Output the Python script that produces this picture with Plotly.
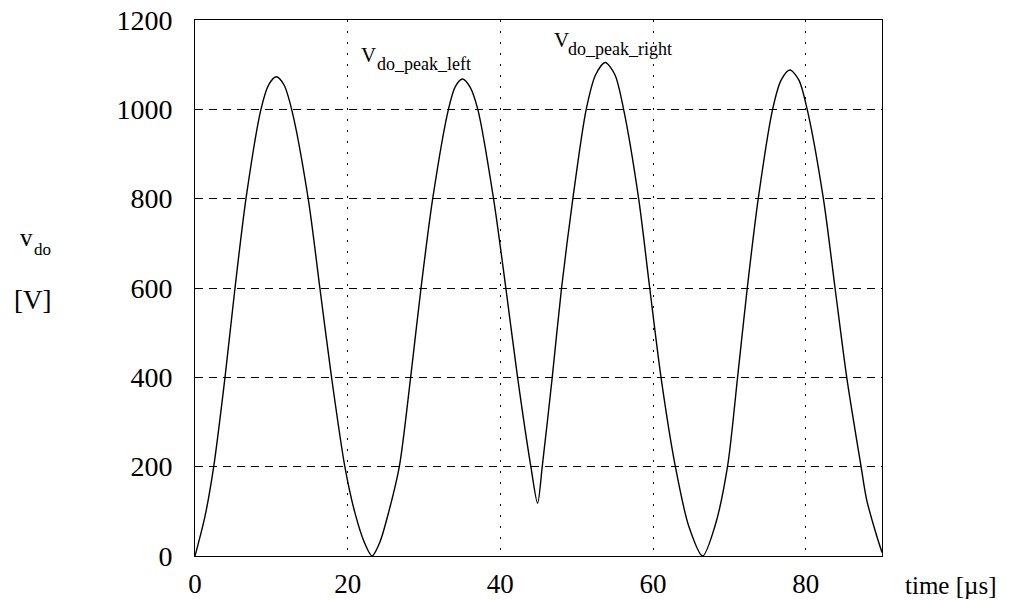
import plotly.graph_objects as go

# time [µs] and v_do [V]
time_us = [0, 1.3, 2.45, 3.93, 5.24, 6.68, 8.64, 9.65, 10.65, 11.65, 12.66, 14.83, 16.36, 17.89, 19.63,
           20.9, 22.2, 23.2, 24.2, 25.4, 26.77, 28.25, 29.61, 31.14, 33.2, 34.1, 35.04, 36.0, 37.05,
           39.11, 40.72, 42.26, 44.0, 44.88, 45.49, 46.8, 48.02, 49.5, 51.25, 52.5, 53.74, 55.0, 56.15,
           58.12, 59.57, 61.05, 62.93, 64.7, 66.5, 68.1, 69.76, 71.08, 72.35, 73.79, 75.67, 76.8, 77.94,
           79.1, 80.2, 82.32, 83.85, 85.38, 87.26, 88.0, 89.2, 90.0]
v_do = [0, 88, 200, 400, 600, 800, 1000, 1055, 1073, 1055, 1000, 800, 600, 400, 200,
        100, 30, 0, 30, 100, 200, 400, 600, 800, 1000, 1051, 1068, 1051, 1000,
        800, 600, 400, 200, 118, 200, 400, 600, 800, 1000, 1078, 1105, 1078, 1000,
        800, 600, 400, 200, 66, 0, 66, 200, 400, 600, 800, 1000, 1066, 1088,
        1066, 1000, 800, 600, 400, 200, 125, 51, 8]

x_ticks = [0, 20, 40, 60, 80]
y_ticks = [0, 200, 400, 600, 800, 1000, 1200]

SERIF = "Liberation Serif, Times New Roman, serif"
OFF = 8  # default page body margin
W, H = 1031 - OFF, 600 - OFF
ML, MR, MT, MB = 195 - OFF, 149, 20 - OFF, 44

fig = go.Figure()
fig.add_trace(go.Scatter(x=time_us, y=v_do, mode="lines",
                         line=dict(color="black", width=1.4, shape="spline", smoothing=0.8),
                         showlegend=False, hoverinfo="skip"))

fig.update_layout(
    width=W, height=H,
    margin=dict(l=ML, r=MR, t=MT, b=MB, autoexpand=False),
    paper_bgcolor="white", plot_bgcolor="white",
    font=dict(family=SERIF, color="black", size=28),
)
fig.update_xaxes(range=[0, 90], tickvals=x_ticks, ticktext=[str(v) for v in x_ticks],
                 showline=True, linecolor="black", linewidth=1, mirror=True,
                 showgrid=True, gridcolor="black", gridwidth=1, griddash="2px,9px",
                 zeroline=False, ticks="", ticklabelstandoff=4, automargin=False,
                 ticklabeloverflow="allow",
                 tickfont=dict(family=SERIF, size=27, color="black"))
fig.update_yaxes(range=[0, 1200], tickvals=y_ticks, ticktext=[str(v) for v in y_ticks],
                 showline=True, linecolor="black", linewidth=1, mirror=True,
                 showgrid=True, gridcolor="black", gridwidth=1, griddash="8px,6px",
                 zeroline=False, ticks="", ticklabelstandoff=16, automargin=False,
                 ticklabeloverflow="allow",
                 tickfont=dict(family=SERIF, size=28, color="black"))


def px_to_paper(px, py):
    # px, py are page pixel positions in the reference
    fx, fy = px - OFF, py - OFF
    return (fx - ML) / (W - ML - MR), (H - MB - fy) / (H - MT - MB)


labels = [
    ("v", 18, 237, 25), ("do", 32, 250, 17),
    ("[V]", 12, 300, 27),
    ("time [µs]", 903, 585, 25),
    ("V", 359, 55, 21), ("do_peak_left", 375, 64, 18),
    ("V", 552, 40, 21), ("do_peak_right", 566, 49, 18),
]
for text, px, py, fs in labels:
    xp, yp = px_to_paper(px, py)
    fig.add_annotation(text=text, x=xp, y=yp, xref="paper", yref="paper", showarrow=False,
                       xanchor="left", yanchor="middle",
                       font=dict(family=SERIF, size=fs, color="black"))

fig.write_html("out.html")
